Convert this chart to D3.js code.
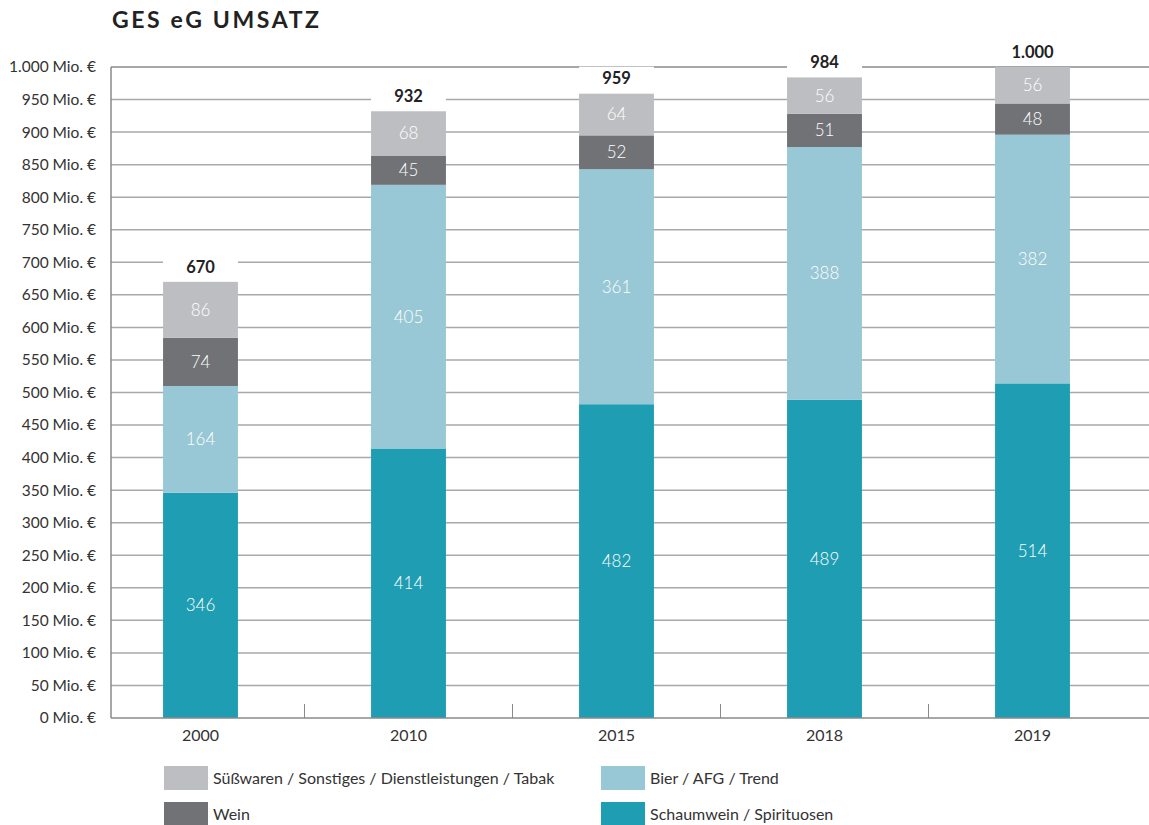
<!DOCTYPE html>
<html>
<head>
<meta charset="utf-8">
<script src="https://cdn.jsdelivr.net/npm/d3@7"></script>
<style>
  body { margin: 0; background: #fff; }
  text { font-family: Lato, "Noto Sans", sans-serif; }
</style>
</head>
<body>
<div id="chart"></div>
<script>
// values, Mio. €
var years = ["2000", "2010", "2015", "2018", "2019"]
var schaumwein = [346, 414, 482, 489, 514]
var bier = [164, 405, 361, 388, 382]
var wein = [74, 45, 52, 51, 48]
var suesswaren = [86, 68, 64, 56, 56]
var yTicks = [0, 50, 100, 150, 200, 250, 300, 350, 400, 450, 500, 550, 600, 650, 700, 750, 800, 850, 900, 950, 1000]

var seriesNames = ["Schaumwein / Spirituosen", "Bier / AFG / Trend", "Wein", "Süßwaren / Sonstiges / Dienstleistungen / Tabak"]
var seriesColors = ["#1f9db2", "#98c7d5", "#717276", "#bdbec2"]
var seriesValues = [schaumwein, bier, wein, suesswaren]

var width = 1149,
    height = 825

var de = d3.formatLocale({ decimal: ",", thousands: ".", grouping: [3], currency: ["", " €"] })
var fmtNum = de.format(",d")

var svg = d3.select("#chart").append("svg")
    .attr("width", width)
    .attr("height", height)

var x = d3.scaleBand()
    .domain(years)
    .range([96.5, 1136.5])
    .paddingInner(0.64)
    .paddingOuter(0.32)

var y = d3.scaleLinear()
    .domain([0, 1000])
    .range([718, 67])

var rows = years.map(function(yr, i) {
  var r = { year: yr }
  seriesNames.forEach(function(n, k) { r[n] = seriesValues[k][i] })
  return r
})
var stack = d3.stack().keys(seriesNames)(rows)

// title
svg.append("text")
    .attr("x", 112)
    .attr("y", 28)
    .style("font-size", "23px")
    .style("font-weight", "bold")
    .style("letter-spacing", "2.6px")
    .style("fill", "#222")
    .text("GES eG UMSATZ")

// gridlines
svg.append("g").selectAll("line")
    .data(yTicks.filter(function(d) { return d > 0 }))
    .enter().append("line")
      .attr("x1", 111).attr("x2", width)
      .attr("y1", function(d) { return y(d) }).attr("y2", function(d) { return y(d) })
      .style("stroke", function(d) { return d === 1000 ? "#8a8a8e" : "#a9a9ad" })
      .style("stroke-width", 1.5)

// y labels
svg.append("g").selectAll("text")
    .data(yTicks)
    .enter().append("text")
      .attr("x", 96)
      .attr("y", function(d) { return y(d) })
      .attr("dy", "0.35em")
      .attr("text-anchor", "end")
      .style("font-size", "15.5px")
      .style("fill", "#333")
      .text(function(d) { return fmtNum(d) + " Mio. €" })

// category separators on the base line
var seps = years.slice(1).map(function(yr, i) {
  return (x(years[i]) + x.bandwidth() + x(yr)) / 2
})
svg.append("g").selectAll("line")
    .data(seps)
    .enter().append("line")
      .attr("x1", function(d) { return d }).attr("x2", function(d) { return d })
      .attr("y1", 704).attr("y2", 718)
      .style("stroke", "#8a8a8e")
      .style("stroke-width", 1)

// bars
var layer = svg.append("g").selectAll("g")
    .data(stack)
    .enter().append("g")
      .style("fill", function(d, k) { return seriesColors[k] })

layer.selectAll("rect")
    .data(function(d) { return d })
    .enter().append("rect")
      .attr("x", function(d) { return x(d.data.year) })
      .attr("width", x.bandwidth())
      .attr("y", function(d) { return y(d[1]) })
      .attr("height", function(d) { return y(d[0]) - y(d[1]) })

layer.selectAll("text")
    .data(function(d) { return d })
    .enter().append("text")
      .attr("x", function(d) { return x(d.data.year) + x.bandwidth() / 2 })
      .attr("y", function(d) { return (y(d[0]) + y(d[1])) / 2 })
      .attr("dy", "0.35em")
      .attr("text-anchor", "middle")
      .style("fill", "#fff")
      .style("font-size", "17px")
      .style("font-weight", "300")
      .text(function(d) { return d[1] - d[0] })

// totals on white boxes
var totals = rows.map(function(r) {
  return { year: r.year, total: d3.sum(seriesNames, function(n) { return r[n] }) }
})
var tg = svg.append("g").selectAll("g")
    .data(totals)
    .enter().append("g")
tg.append("rect")
    .attr("x", function(d) { return x(d.year) })
    .attr("width", x.bandwidth())
    .attr("y", function(d) { return y(d.total) - 27 })
    .attr("height", 25)
    .style("fill", "#fff")
tg.append("text")
    .attr("x", function(d) { return x(d.year) + x.bandwidth() / 2 })
    .attr("y", function(d) { return y(d.total) - 15 })
    .attr("dy", "0.35em")
    .attr("text-anchor", "middle")
    .style("font-size", "16.5px")
    .style("font-weight", "bold")
    .style("fill", "#222")
    .text(function(d) { return fmtNum(d.total) })

// axis lines
svg.append("line")
    .attr("x1", 111).attr("x2", 111).attr("y1", 67).attr("y2", 718)
    .style("stroke", "#8a8a8e").style("stroke-width", 1.5)
svg.append("line")
    .attr("x1", 111).attr("x2", width).attr("y1", 718).attr("y2", 718)
    .style("stroke", "#8a8a8e").style("stroke-width", 1.5)

// x labels
svg.append("g").selectAll("text")
    .data(years)
    .enter().append("text")
      .attr("x", function(d) { return x(d) + x.bandwidth() / 2 })
      .attr("y", 735)
      .attr("dy", "0.35em")
      .attr("text-anchor", "middle")
      .style("font-size", "16px")
      .style("fill", "#333")
      .text(function(d) { return d })

// legend
var legendItems = [
  { name: seriesNames[3], color: seriesColors[3], x: 164, y: 766 },
  { name: seriesNames[1], color: seriesColors[1], x: 601, y: 766 },
  { name: seriesNames[2], color: seriesColors[2], x: 164, y: 802 },
  { name: seriesNames[0], color: seriesColors[0], x: 601, y: 802 }
]
var lg = svg.append("g").selectAll("g")
    .data(legendItems)
    .enter().append("g")
      .attr("transform", function(d) { return "translate(" + d.x + "," + d.y + ")" })
lg.append("rect")
    .attr("width", 44)
    .attr("height", 24)
    .style("fill", function(d) { return d.color })
lg.append("text")
    .attr("x", 49)
    .attr("y", 12)
    .attr("dy", "0.35em")
    .style("font-size", "16px")
    .style("fill", "#333")
    .text(function(d) { return d.name })
</script>
</body>
</html>
